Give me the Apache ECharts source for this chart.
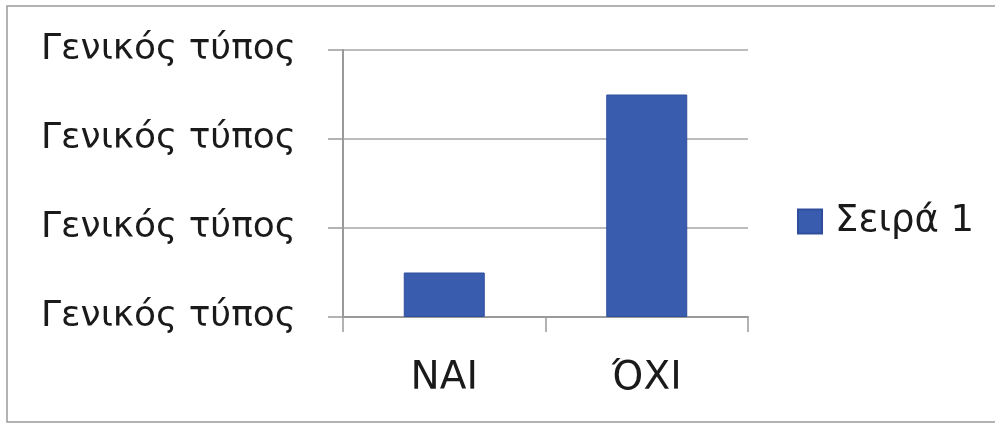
<!DOCTYPE html>
<html>
<head>
<meta charset="utf-8">
<script src="https://cdn.jsdelivr.net/npm/echarts@6/dist/echarts.min.js"></script>
<style>
    html, body { margin: 0; padding: 0; background: #fff; }
    #chart { width: 995px; height: 427px; }
</style>
</head>
<body>
<div id="chart"></div>
<script>
    // data
    var categories = ['ΝΑΙ', 'ΌΧΙ'];
    var seriesName = 'Σειρά 1';
    var values = [0.5, 2.5];
    var yTickLabel = 'Γενικός τύπος'; // every y tick shows the same text

    var myChart = echarts.init(document.getElementById('chart'));
    var fontFam = 'DejaVu Sans, sans-serif';
    var option = {
        backgroundColor: '#fff',
        animation: false,
        graphic: [{
            type: 'rect',
            shape: { x: 7, y: 6, width: 995, height: 416 },
            style: { fill: 'none', stroke: '#9a9a9a', lineWidth: 1.5 }
        }],
        legend: {
            data: [seriesName],
            orient: 'vertical',
            left: 792,
            top: 198,
            itemWidth: 24,
            itemHeight: 24,
            icon: 'rect',
            textStyle: {
                fontSize: 37,
                color: '#1a1a1a',
                fontFamily: fontFam,
                padding: [0, 0, 0, 8]
            }
        },
        grid: {
            left: 343,
            right: 247,
            top: 50,
            bottom: 110
        },
        xAxis: {
            type: 'category',
            data: categories,
            axisLine: { lineStyle: { color: '#9a9a9a', width: 2 } },
            axisTick: { show: true, length: 15, lineStyle: { color: '#9a9a9a', width: 1.5 } },
            axisLabel: {
                margin: 42,
                fontSize: 39,
                color: '#1a1a1a',
                fontFamily: fontFam
            }
        },
        yAxis: {
            type: 'value',
            min: 0,
            max: 3,
            interval: 1,
            axisLine: { show: true, lineStyle: { color: '#9a9a9a', width: 2 } },
            axisTick: { show: true, length: 15, lineStyle: { color: '#9a9a9a', width: 1.5 } },
            splitLine: { lineStyle: { color: '#a6a6a6', width: 1.5 } },
            axisLabel: {
                margin: 47,
                fontSize: 36,
                color: '#1a1a1a',
                fontFamily: fontFam,
                formatter: function () { return yTickLabel; }
            }
        },
        series: [{
            name: seriesName,
            type: 'bar',
            data: values,
            barWidth: '40%',
            itemStyle: {
                color: '#3a5cae',
                borderColor: '#2f4f9c',
                borderWidth: 1
            }
        }]
    };
    myChart.setOption(option);
</script>
</body>
</html>
